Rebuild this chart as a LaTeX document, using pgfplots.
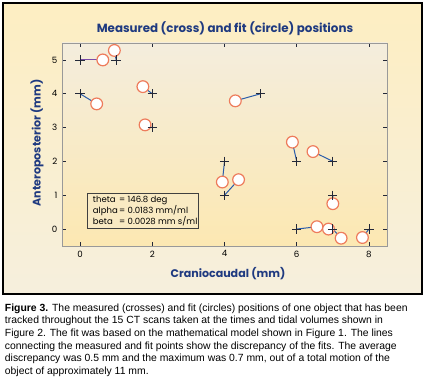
\documentclass[border=0pt]{standalone}
\usepackage{pgfplots}
\pgfplotsset{compat=1.18}
\usepackage{fontspec}
\setmainfont{Liberation Sans}
\newfontfamily\chartfont{Poppins}
\definecolor{frameTop}{HTML}{FDEEC2}
\definecolor{frameBot}{HTML}{F6EFDD}
\definecolor{axTop}{HTML}{F4EDDD}
\definecolor{axBot}{HTML}{FCE8B2}
\definecolor{navy}{HTML}{1F3A80}
\definecolor{segblue}{HTML}{2A5CAA}
\definecolor{segpurple}{HTML}{7A4AA8}
\definecolor{circedge}{HTML}{EE7C5C}
\definecolor{crossc}{HTML}{232838}
\begin{document}
\begin{tikzpicture}
\path[use as bounding box] (0,0) rectangle (319.5pt,282.75pt);
\shade[top color=frameTop, bottom color=frameBot] (2.25pt,62.25pt) rectangle (316.5pt,280.5pt);
\draw[line width=0.9pt, black] (2.25pt,62.25pt) rectangle (316.5pt,280.5pt);
\begin{axis}[
  at={(46.5pt,98.25pt)}, anchor=south west,
  width=243.75pt, height=152.25pt, scale only axis,
  xmin=-0.5, xmax=8.5, ymin=-0.5, ymax=5.5,
  xtick={0,2,4,6,8}, ytick={0,1,2,3,4,5},
  tick align=inside, major tick length=3pt,
  tick style={color=crossc, line width=0.6pt},
  axis line style={color=gray!80, line width=0.7pt},
  axis background/.style={shade, top color=axTop, bottom color=axBot},
  /pgf/number format/assume math mode=true,
  ticklabel style={font=\chartfont\fontsize{6.5}{7}\selectfont, text=black},
  clip=false,
]
% fit circles
\addplot[only marks, mark=*, mark size=4.4pt, mark options={fill=white, draw=circedge, line width=0.9pt}] coordinates {
(0.63,5.00) (0.95,5.28) (0.46,3.70) (1.74,4.21) (1.80,3.08) (4.30,3.79)
(3.94,1.39) (4.39,1.46) (5.88,2.57) (6.45,2.29) (7.00,0.75) (6.56,0.07)
(6.88,0.00) (7.23,-0.27) (7.82,-0.25)
};
% discrepancy lines
\addplot[color=segblue, line width=0.75pt, unbounded coords=jump, mark=none] table[x=x, y=y] {
x y
1 5
0.95 5.28
nan nan
0 4
0.46 3.70
nan nan
2 4
1.74 4.21
nan nan
2 3
1.80 3.08
nan nan
5 4
4.30 3.79
nan nan
4 2
3.94 1.39
nan nan
4 1
4.39 1.46
nan nan
6 2
5.88 2.57
nan nan
7 2
6.45 2.29
nan nan
7 1
7.00 0.75
nan nan
6 0
6.56 0.07
nan nan
7 0
6.88 0.00
nan nan
7 0
7.23 -0.27
nan nan
8 0
7.82 -0.25
};
\addplot[color=segpurple, line width=0.8pt, mark=none] coordinates {(0,5) (0.63,5.00)};
% measured crosses
\addplot[only marks, mark=+, mark size=3.5pt, mark options={draw=crossc, line width=0.6pt}] coordinates {
(0,5) (1,5) (0,4) (2,4) (2,3) (5,4) (4,2) (4,1) (6,2) (7,2) (7,1) (6,0) (7,0) (7,0) (8,0)
};
\end{axis}
% parameter box
\draw[line width=0.7pt, color=black!75, fill=axBot!60!axTop] (65.25pt,111.75pt) rectangle (148.5pt,138pt);
\node[anchor=north west, inner sep=0pt, font=\chartfont\fontsize{6.4}{7.1}\selectfont] at (69.5pt,135.8pt) {%
\begin{tabular}{@{}l@{\,}l@{}}
theta & = 146.8 deg\\
alpha & = 0.0183 mm/ml\\
beta & = 0.0028 mm s/ml
\end{tabular}};
% title and labels
\node[font=\chartfont\bfseries\fontsize{8.9}{10}\selectfont, text=navy] at (168.75pt,261pt) {Measured (cross) and fit (circle) positions};
\node[font=\chartfont\bfseries\fontsize{8.3}{10}\selectfont, text=navy] at (171pt,77.25pt) {Craniocaudal (mm)};
\node[font=\chartfont\bfseries\fontsize{8.3}{10}\selectfont, text=navy, rotate=90] at (27.75pt,175.5pt) {Anteroposterior (mm)};
% caption
\node[anchor=north west, inner sep=0pt, align=left, font=\fontsize{7.8}{9.4}\selectfont] at (3.5pt,55pt) {%
\textbf{Figure 3.} The measured (crosses) and fit (circles) positions of one object that has been\\
tracked throughout the 15 CT scans taken at the times and tidal volumes shown in\\
Figure 2. The fit was based on the mathematical model shown in Figure 1. The lines\\
connecting the measured and fit points show the discrepancy of the fits. The average\\
discrepancy was 0.5 mm and the maximum was 0.7 mm, out of a total motion of the\\
object of approximately 11 mm.};
\end{tikzpicture}
\end{document}
